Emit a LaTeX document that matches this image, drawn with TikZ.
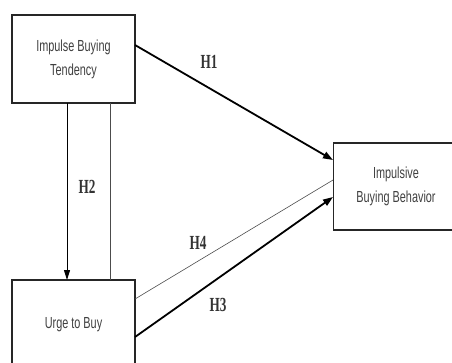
\documentclass[tikz,border=0pt]{standalone}
\usepackage{fontspec}
\newfontfamily\boxfont[FakeStretch=0.68]{Liberation Sans}
\newfontfamily\hfont[FakeStretch=0.66]{Liberation Serif}
\usetikzlibrary{arrows.meta}
\begin{document}
\begin{tikzpicture}[x=1pt,y=-1pt,
  boxnode/.style={draw=black!85,line width=1.8pt,fill=white,minimum width=123pt,inner sep=0pt,align=center,font=\boxfont\fontsize{16}{24}\selectfont,text=black!75},
  hlabel/.style={font=\hfont\fontsize{20}{20}\selectfont\bfseries,text=black!80},
  thickarrow/.style={line width=1.8pt,-{Triangle[length=10pt,width=7pt]}},
  medarrow/.style={line width=1pt,-{Triangle[length=10pt,width=6pt]}},
  thinline/.style={line width=0.6pt,draw=black!70}]
\useasboundingbox (0,0) rectangle (452,362);
\node[boxnode,minimum height=88pt] (ibt) at (73.5,59) {Impulse Buying\\Tendency};
\node[boxnode,minimum height=90pt] (utb) at (73.5,325) {Urge to Buy};
\node[boxnode,minimum width=125pt,minimum height=87pt] (ibb) at (396,186.5) {Impulsive\\Buying Behavior};
\coordinate (h2a) at (67,103);
\coordinate (h2b) at (67,280);
\coordinate (tla) at (110,103);
\coordinate (tlb) at (110,280);
\draw[medarrow] (h2a) -- (h2b);
\draw[thinline] (tla) -- (tlb);
\coordinate (h1s) at (135,45);
\coordinate (h1e) at (333,160);
\draw[thickarrow] (h1s) -- (h1e);
\coordinate (h4s) at (135,299);
\coordinate (h4e) at (333,180);
\draw[thinline] (h4s) -- (h4e);
\coordinate (h3s) at (135,337);
\coordinate (h3e) at (333,197);
\draw[thickarrow] (h3s) -- (h3e);
\node[hlabel] (l1) at (209,62) {H1};
\node[hlabel] (l2) at (87,187) {H2};
\node[hlabel] (l4) at (198,243) {H4};
\node[hlabel] (l3) at (218,305) {H3};
\end{tikzpicture}
\end{document}
